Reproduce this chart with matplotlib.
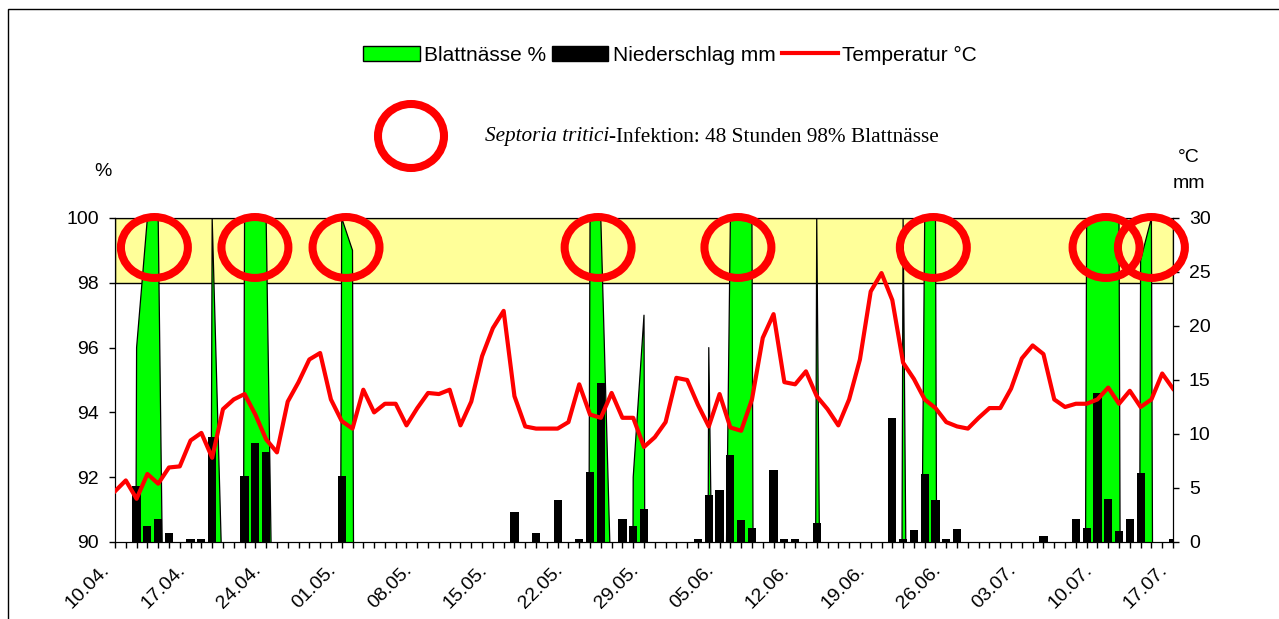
import datetime as dt
import numpy as np
import matplotlib
matplotlib.use('Agg')
import matplotlib.pyplot as plt
from matplotlib.patches import Ellipse, Patch, Rectangle
from matplotlib.lines import Line2D
from matplotlib.text import Annotation
from matplotlib.transforms import ScaledTranslation

plt.rcParams['font.family'] = ['Liberation Sans', 'DejaVu Sans']

# Tageswerte vom 10.04. bis 17.07.
start = dt.date(2001, 4, 10)
days = np.arange(99)
date_labels = [(start + dt.timedelta(days=int(d))).strftime('%d.%m.') for d in days]

# Blattnaesse in % (linke Achse, nur 90-100 sichtbar)
blattnaesse = [0, 0, 96, 100, 100, 73, 0, 0, 0, 100,
               88, 0, 100, 100, 100, 78, 0, 0, 0, 0,
               0, 100, 99, 0, 0, 0, 0, 0, 0, 0,
               0, 0, 0, 0, 0, 0, 0, 0, 0, 0,
               0, 0, 0, 0, 100, 100, 88, 0, 92, 97,
               0, 0, 0, 0, 0, 96, 72, 100, 100, 100,
               0, 0, 0, 0, 0, 100, 60, 0, 0, 0,
               0, 0, 0, 100, 60, 100, 100, 0, 0, 0,
               0, 0, 0, 0, 0, 0, 0, 0, 0, 0,
               100, 100, 100, 100, 0, 98.7, 100, 0, 0]

# Niederschlag in mm (rechte Achse)
niederschlag = [0, 0, 5.2, 1.5, 2.1, 0.8, 0, 0.3, 0.3, 9.7,
                0, 0, 6.1, 9.2, 8.3, 0, 0, 0, 0, 0,
                0, 6.1, 0, 0, 0, 0, 0, 0, 0, 0,
                0, 0, 0, 0, 0, 0, 0, 2.8, 0, 0.8,
                0, 3.9, 0, 0.3, 6.5, 14.7, 0, 2.1, 1.5, 3.1,
                0, 0, 0, 0, 0.3, 4.35, 4.8, 8.05, 2.0, 1.27,
                0, 6.7, 0.3, 0.3, 0, 1.8, 0, 0, 0, 0,
                0, 0, 11.45, 0.3, 1.1, 6.3, 3.9, 0.3, 1.2, 0,
                0, 0, 0, 0, 0, 0, 0.55, 0, 0, 2.1,
                1.3, 13.8, 4.0, 1.0, 2.1, 6.35, 0, 0, 0.3]

# Temperatur in Grad C (rechte Achse)
temperatur = [4.7, 5.7, 4.0, 6.3, 5.4, 6.9, 7.0, 9.4, 10.1, 7.8,
              12.3, 13.2, 13.7, 11.8, 9.5, 8.3, 13.0, 14.8, 16.9, 17.5,
              13.2, 11.2, 10.5, 14.1, 12.0, 12.8, 12.8, 10.8, 12.4, 13.8,
              13.7, 14.1, 10.8, 13.0, 17.2, 19.8, 21.4, 13.5, 10.7, 10.5,
              10.5, 10.5, 11.1, 14.6, 11.8, 11.5, 13.8, 11.5, 11.5, 8.8,
              9.7, 11.1, 15.2, 15.0, 12.7, 10.7, 13.7, 10.6, 10.3, 13.2,
              18.9, 21.1, 14.8, 14.6, 15.8, 13.5, 12.3, 10.8, 13.2, 16.9,
              23.2, 24.9, 22.4, 16.6, 15.1, 13.2, 12.4, 11.1, 10.7, 10.5,
              11.5, 12.4, 12.4, 14.2, 17.0, 18.2, 17.4, 13.2, 12.5, 12.8,
              12.8, 13.2, 14.3, 12.8, 14.0, 12.5, 13.2, 15.6, 14.2]

# Septoria-Infektionen (Tag-Index der Kreismitte)
infektion_tage = [3.65, 12.96, 21.4, 44.75, 57.7, 75.8, 91.8, 96.0]

W, H = 1279, 619
fig = plt.figure(figsize=(W / 100, H / 100), dpi=100)
ax = fig.add_axes([115 / W, 1 - 542 / H, (1173 - 115) / W, (542 - 218) / H])
ax2 = ax.twinx()

ax.set_xlim(0, 98)
ax.set_ylim(90, 100)
ax2.set_ylim(0, 30)

# gelber Bereich 98-100 %
ax.axhspan(98, 100, facecolor='#FFFF99', edgecolor='black', lw=1, zorder=0)
# Blattnaesse als Flaeche
ax.fill_between(days, blattnaesse, 0, color='#00FF00', lw=0, zorder=1)
ax.plot(days, blattnaesse, color='black', lw=0.9, zorder=2)

# Niederschlag und Temperatur
ax2.bar(days, niederschlag, width=0.76, color='black', zorder=3)
ax2.plot(days, temperatur, color='#FF0000', lw=3, zorder=4)

for d in infektion_tage:
    ax2.add_patch(Ellipse((d, 99.09), 6.2, 1.88, transform=ax.transData,
                          fill=False, edgecolor='#FF0000', lw=5.8,
                          clip_on=False, zorder=5))

# Achsen
ax.set_xticks(range(0, 99, 7))
ax.set_xticklabels([date_labels[i] for i in range(0, 99, 7)], rotation=45,
                   ha='right', va='baseline', rotation_mode='anchor', fontsize=14)
ax.set_xticks(days, minor=True)
ax.tick_params(axis='x', which='both', direction='out', length=4.3, width=1, pad=16.5)
for lab in ax.get_xticklabels():
    lab.set_transform(lab.get_transform() + ScaledTranslation(-0.05, 0, fig.dpi_scale_trans))

ax.set_yticks(range(90, 101, 2))
ax.tick_params(axis='y', direction='out', length=4.3, width=1, pad=7.2, labelsize=14)
ax2.set_yticks(range(0, 31, 5))
ax2.tick_params(axis='y', direction='out', length=4.3, width=1, pad=7.2, labelsize=14)

fig.text(103 / W, 1 - 172 / H, '%', ha='center', va='center', fontsize=14)
fig.text(1189 / W, 1 - 157 / H, '°C', ha='center', va='center', fontsize=14)
fig.text(1189 / W, 1 - 183 / H, 'mm', ha='center', va='center', fontsize=14)

# Legende
handles = [Patch(facecolor='#00FF00', edgecolor='black', lw=1),
           Patch(facecolor='black', edgecolor='black'),
           Line2D([], [], color='#FF0000', lw=3)]
fig.legend(handles, ['Blattnässe %', 'Niederschlag mm', 'Temperatur °C'],
           loc='center', bbox_to_anchor=(670 / W, 1 - 55 / H), ncol=3,
           frameon=False, fontsize=15, handlelength=2.7, handletextpad=0.2,
           columnspacing=0.3)

fig.add_artist(Ellipse((411 / W, 1 - 136 / H), 66 / W, 64 / H,
                       transform=fig.transFigure, fill=False,
                       edgecolor='#FF0000', lw=5.8))
t1 = fig.text(485 / W, 1 - 137 / H, 'Septoria tritici', fontsize=15.3,
              family='Liberation Serif', style='italic', va='center')
fig.add_artist(Annotation('-Infektion: 48 Stunden 98% Blattnässe', xy=(1, 0),
                          xycoords=t1, va='bottom', ha='left', fontsize=15.3,
                          family='Liberation Serif'))

# Rahmen um das Diagramm (rechts und unten ausserhalb des Bildes)
fig.add_artist(Rectangle((8 / W, -0.1), 1.2, 1.1 - 9 / H,
                         transform=fig.transFigure, fill=False,
                         edgecolor='black', lw=1))

fig.savefig('out.png', dpi=100)
